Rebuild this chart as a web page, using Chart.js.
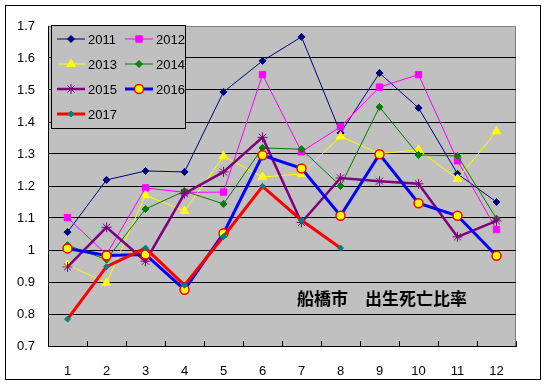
<!DOCTYPE html>
<html><head><meta charset="utf-8">
<script src="https://cdn.jsdelivr.net/npm/chart.js@4/dist/chart.umd.min.js"></script>
<style>
html,body{margin:0;padding:0;background:#fff;}
#wrap{position:relative;width:548px;height:385px;}
canvas{display:block}
</style></head><body>
<div id="wrap"><canvas id="c" width="548" height="385"></canvas></div>
<script>
const months = ['1','2','3','4','5','6','7','8','9','10','11','12'];
const yTickValues = [0.7,0.8,0.9,1.0,1.1,1.2,1.3,1.4,1.5,1.6,1.7];
const seriesNames = ['2011','2012','2013','2014','2015','2016','2017'];
const v2011 = [1.056,1.219,1.247,1.244,1.494,1.591,1.666,1.366,1.553,1.444,1.238,1.150];
const v2012 = [1.101,0.986,1.194,1.180,1.181,1.548,1.307,1.385,1.509,1.548,1.279,1.064];
const v2013 = [0.954,0.897,1.171,1.122,1.293,1.228,1.238,1.355,1.301,1.313,1.222,1.371];
const v2014 = [1.015,0.970,1.128,1.184,1.144,1.319,1.315,1.200,1.447,1.297,1.294,1.098];
const v2015 = [0.947,1.071,0.965,1.176,1.244,1.352,1.086,1.225,1.215,1.207,1.041,1.091];
const v2016 = [1.005,0.983,0.986,0.876,1.052,1.296,1.255,1.107,1.299,1.146,1.107,0.982];
const v2017 = [0.784,0.948,1.006,0.890,1.042,1.199,1.093,1.006,null,null,null,null];
const titleText = '船橋市　出生死亡比率';

const styles = [
  {c:'#000080', w:1, ps:'rectRot', r:3.5, bg:'#000080', bc:'#000080', bw:1},
  {c:'#FF00FF', w:1, ps:'rect', r:4.5, bg:'#FF00FF', bc:'#FF00FF', bw:1},
  {c:'#FFFF00', w:1, ps:'triangle', r:5, bg:'#FFFF00', bc:'#FFFF00', bw:1},
  {c:'#008000', w:1, ps:'rectRot', r:3.5, bg:'#008000', bc:'#008000', bw:1},
  {c:'#800080', w:2.5, ps:'star', r:5, bg:'#800080', bc:'#800080', bw:1},
  {c:'#0000FF', w:3, ps:'circle', r:4.5, bg:'#FFFF00', bc:'#FF0000', bw:1.5},
  {c:'#FF0000', w:3, ps:'rectRot', r:3, bg:'#008080', bc:'#008080', bw:1}
];
const values = [v2011,v2012,v2013,v2014,v2015,v2016,v2017];

const datasets = seriesNames.map((n,i)=>({
  label:n, data:values[i], borderColor:styles[i].c, borderWidth:styles[i].w,
  pointStyle:styles[i].ps, pointRadius:styles[i].r, pointHoverRadius:styles[i].r,
  pointBackgroundColor:styles[i].bg, pointBorderColor:styles[i].bc, pointBorderWidth:styles[i].bw,
  tension:0, fill:false, spanGaps:false, order:7-i
}));

const bgPlugin = {
  id:'bg',
  beforeDraw(chart){
    const ctx = chart.ctx, a = chart.chartArea;
    ctx.save();
    ctx.fillStyle = '#fff';
    ctx.fillRect(0,0,chart.width,chart.height);
    ctx.strokeStyle = '#000'; ctx.lineWidth = 1;
    ctx.strokeRect(5.5,5.5,535,374);
    ctx.fillStyle = '#C0C0C0';
    ctx.fillRect(a.left,a.top,a.right-a.left,a.bottom-a.top);
    ctx.strokeStyle = '#808080';
    ctx.strokeRect(a.left+0.5,a.top+0.5,a.right-a.left-1,a.bottom-a.top);
    ctx.restore();
  }
};

function drawMarker(ctx, st, x, y){
  ctx.save();
  ctx.fillStyle = st.bg; ctx.strokeStyle = st.bc; ctx.lineWidth = st.bw;
  if (Chart.helpers && Chart.helpers.drawPoint) {
    Chart.helpers.drawPoint(ctx, {pointStyle:st.ps, radius:st.r, rotation:0, borderWidth:st.bw}, x, y);
  } else {
    ctx.beginPath(); ctx.arc(x,y,st.r,0,Math.PI*2); ctx.fill(); ctx.stroke();
  }
  ctx.restore();
}

const legendPlugin = {
  id:'boxLegend',
  afterDraw(chart){
    const ctx = chart.ctx;
    ctx.save();
    ctx.fillStyle = '#C0C0C0';
    ctx.fillRect(51.5,25.5,134,103);
    ctx.strokeStyle = '#000'; ctx.lineWidth = 1;
    ctx.strokeRect(51.5,25.5,134,103);
    const cols = [57,125];
    chart.data.datasets.forEach((ds,i)=>{
      const col = i%2, row = Math.floor(i/2);
      const x = cols[col], y = 39 + row*25;
      const st = styles[i];
      ctx.strokeStyle = ds.borderColor; ctx.lineWidth = ds.borderWidth;
      ctx.beginPath(); ctx.moveTo(x, y); ctx.lineTo(x+28, y); ctx.stroke();
      drawMarker(ctx, st, x+14, y);
      ctx.fillStyle = '#000';
      ctx.font = '13px "Liberation Sans", Arial, sans-serif';
      ctx.textBaseline = 'middle'; ctx.textAlign = 'left';
      ctx.fillText(ds.label, x+31, y+1);
    });
    ctx.font = 'bold 17px "Noto Sans CJK JP", sans-serif';
    ctx.fillStyle = '#000';
    ctx.textBaseline = 'middle'; ctx.textAlign = 'left';
    ctx.fillText(titleText, 297, 299);
    ctx.restore();
  }
};

new Chart(document.getElementById('c'), {
  type:'line',
  data:{labels:months, datasets:datasets},
  options:{
    responsive:false, animation:false, devicePixelRatio:1,
    layout:{padding:{top:26,right:32,left:0,bottom:0}},
    plugins:{legend:{display:false}, tooltip:{enabled:false}, title:{display:false}},
    scales:{
      x:{
        type:'category', offset:true,
        grid:{offset:true, drawOnChartArea:false, drawTicks:true, tickLength:-5, color:'#000', lineWidth:1},
        border:{color:'#000', width:1},
        ticks:{font:{size:13, family:'"Liberation Sans", Arial, sans-serif'}, color:'#000', padding:23, maxRotation:0, autoSkip:false},
        afterFit(s){ s.height = 39; }
      },
      y:{
        type:'linear', min:0.7, max:1.7,
        afterBuildTicks(s){ s.ticks = yTickValues.map(v=>({value:v})); },
        grid:{drawTicks:false, lineWidth:1, color:(c)=> (c.tick && Math.abs(c.tick.value-1.7)<1e-6) ? '#808080' : '#000'},
        border:{color:'#000', width:1},
        ticks:{font:{size:13, family:'"Liberation Sans", Arial, sans-serif'}, color:'#000', padding:13,
          callback:(v)=> String(Number(Number(v).toFixed(1)))},
        afterFit(s){ s.width = 48; }
      }
    }
  },
  plugins:[bgPlugin, legendPlugin]
});
</script>
</body></html>
